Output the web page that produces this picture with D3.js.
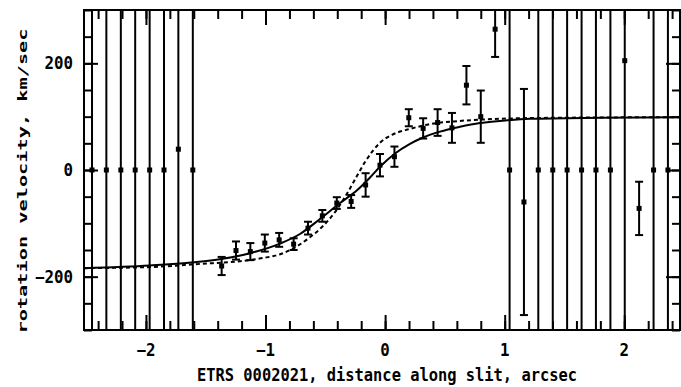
<!DOCTYPE html>
<html>
<head>
<meta charset="utf-8">
<script src="https://cdn.jsdelivr.net/npm/d3@7"></script>
<style>
html, body { margin: 0; padding: 0; background: #fff; }
svg { display: block; }
</style>
</head>
<body>
<svg id="chart" width="681" height="387"></svg>
<script>
// ---- data ----
const positions = [-2.451, -2.331, -2.210, -2.090, -1.969, -1.849, -1.729, -1.608,
  -1.367, -1.247, -1.127, -1.006, -0.886, -0.765, -0.645, -0.525, -0.404, -0.284,
  -0.163, -0.043, 0.078, 0.198, 0.318, 0.439, 0.559, 0.680, 0.800, 0.920,
  1.041, 1.161, 1.281, 1.402, 1.522, 1.643, 1.763, 1.884, 2.004, 2.124, 2.245, 2.365];
const velocities = [0, 0, 0, 0, 0, 0, 39, 0,
  -180, -151, -153, -137, -131, -139, -109, -86, -62, -59,
  -28, 9, 25, 98, 78, 89, 79, 159, 100, 264,
  0, -60, 0, 0, 0, 0, 0, 0, 205, -72, 0, 0];
const errors = [1000, 1000, 1000, 1000, 1000, 1000, 1000, 1000,
  17, 17, 16, 16, 13, 11, 12, 11, 11, 12,
  22, 21, 19, 16, 19, 25, 28, 36, 49, 52,
  1000, 212, 1000, 1000, 1000, 1000, 1000, 1000, 1000, 50, 1000, 1000];

// model rotation curve (solid)
const modelPos = [-2.518, -1.966, -1.598, -1.372, -1.113, -0.879, -0.712, -0.545, -0.377,
  -0.235, -0.126, -0.043, 0.083, 0.208, 0.317, 0.459, 0.626, 0.793, 0.961, 1.212, 1.797, 2.466];
const modelVel = [-184, -179, -173, -167, -155, -138, -120, -92, -62,
  -38, -14, 6, 31, 49, 61, 72, 81, 88, 92, 96, 98, 99];

// alternative model curve (dashed)
const altPos = [-2.518, -1.966, -1.548, -1.213, -1.020, -0.879, -0.737, -0.628, -0.528, -0.419,
  -0.310, -0.235, -0.168, -0.043, 0.058, 0.208, 0.375, 0.626, 0.961, 1.463, 2.466];
const altVel = [-184, -182, -176, -171, -165, -158, -143, -126, -107, -79,
  -41, -11, 15, 51, 66, 77, 86, 92, 96, 98, 99];

const xTickValues = [-2, -1, 0, 1, 2];
const yTickValues = [-200, 0, 200];
const xLabel = "ETRS 0002021, distance along slit, arcsec";
const yLabel = "rotation velocity, km/sec";

// ---- drawing ----
const svg = d3.select("#chart");
const L = 84, R = 680, T = 10, B = 330;
const FONT = "'DejaVu Sans Mono', monospace";

const x = d3.scaleLinear().domain([-2.518, 2.466]).range([L, R]);
const y = d3.scaleLinear().domain([-300, 300]).range([B, T]);

svg.append("rect").attr("width", 681).attr("height", 387).attr("fill", "#fff");

svg.append("defs").append("clipPath").attr("id", "plotclip")
  .append("rect").attr("x", L).attr("y", T).attr("width", R - L).attr("height", B - T);

const plot = svg.append("g").attr("clip-path", "url(#plotclip)");

const line = d3.line().x(d => x(d[0])).y(d => y(d[1])).curve(d3.curveMonotoneX);

plot.append("path")
  .datum(altPos.map((p, i) => [p, altVel[i]]))
  .attr("d", line).attr("fill", "none").attr("stroke", "#000")
  .attr("stroke-width", 2).attr("stroke-dasharray", "4,3");

plot.append("path")
  .datum(modelPos.map((p, i) => [p, modelVel[i]]))
  .attr("d", line).attr("fill", "none").attr("stroke", "#000")
  .attr("stroke-width", 2);

const pts = positions.map((p, i) => ({ p, v: velocities[i], e: errors[i] }));
const g = plot.selectAll("g.pt").data(pts).join("g").attr("class", "pt");
g.append("line")
  .attr("x1", d => x(d.p)).attr("x2", d => x(d.p))
  .attr("y1", d => y(d.v - d.e)).attr("y2", d => y(d.v + d.e))
  .attr("stroke", "#000").attr("stroke-width", 2);
g.append("line")
  .attr("x1", d => x(d.p) - 4).attr("x2", d => x(d.p) + 4)
  .attr("y1", d => y(d.v - d.e)).attr("y2", d => y(d.v - d.e))
  .attr("stroke", "#000").attr("stroke-width", 2);
g.append("line")
  .attr("x1", d => x(d.p) - 4).attr("x2", d => x(d.p) + 4)
  .attr("y1", d => y(d.v + d.e)).attr("y2", d => y(d.v + d.e))
  .attr("stroke", "#000").attr("stroke-width", 2);
g.append("rect")
  .attr("x", d => x(d.p) - 2.5).attr("y", d => y(d.v) - 2.5)
  .attr("width", 5).attr("height", 5).attr("fill", "#000");

// axes (inward ticks)
function styleAxis(sel) {
  sel.select(".domain").remove();
  sel.selectAll(".tick line").attr("stroke", "#000").attr("stroke-width", 2);
  sel.selectAll(".tick text").remove();
}
const xMinor = x.ticks(25);
const yMinor = y.ticks(12);

svg.append("g").attr("transform", `translate(0,${B})`)
  .call(d3.axisBottom(x).tickValues(xMinor).tickSize(-9)).call(styleAxis);
svg.append("g").attr("transform", `translate(0,${B})`)
  .call(d3.axisBottom(x).tickValues(xTickValues).tickSize(-15)).call(styleAxis);
svg.append("g").attr("transform", `translate(0,${T})`)
  .call(d3.axisTop(x).tickValues(xMinor).tickSize(-9)).call(styleAxis);
svg.append("g").attr("transform", `translate(0,${T})`)
  .call(d3.axisTop(x).tickValues(xTickValues).tickSize(-15)).call(styleAxis);

svg.append("g").attr("transform", `translate(${L},0)`)
  .call(d3.axisLeft(y).tickValues(yMinor).tickSize(-8)).call(styleAxis);
svg.append("g").attr("transform", `translate(${L},0)`)
  .call(d3.axisLeft(y).tickValues(yTickValues).tickSize(-14)).call(styleAxis);
svg.append("g").attr("transform", `translate(${R},0)`)
  .call(d3.axisRight(y).tickValues(yMinor).tickSize(-8)).call(styleAxis);
svg.append("g").attr("transform", `translate(${R},0)`)
  .call(d3.axisRight(y).tickValues(yTickValues).tickSize(-14)).call(styleAxis);

// frame
svg.append("rect").attr("x", L).attr("y", T).attr("width", R - L).attr("height", B - T)
  .attr("fill", "none").attr("stroke", "#000").attr("stroke-width", 2);

const fmt = v => (v < 0 ? "\u2212" : "") + Math.abs(v);

// tick labels
svg.selectAll("text.xt").data(xTickValues).join("text").attr("class", "xt")
  .attr("x", d => x(d)).attr("y", 356)
  .attr("text-anchor", "middle")
  .attr("font-family", FONT).attr("font-weight", "bold").attr("font-size", 17)
  .attr("textLength", d => fmt(d).length * 9.5).attr("lengthAdjust", "spacingAndGlyphs")
  .text(fmt);

svg.selectAll("text.yt").data(yTickValues).join("text").attr("class", "yt")
  .attr("x", 73).attr("y", d => y(d) + 6)
  .attr("text-anchor", "end")
  .attr("font-family", FONT).attr("font-weight", "bold").attr("font-size", 17)
  .attr("textLength", d => fmt(d).length * 9.5).attr("lengthAdjust", "spacingAndGlyphs")
  .text(fmt);

// axis titles
svg.append("text")
  .attr("x", 387).attr("y", 381).attr("text-anchor", "middle")
  .attr("font-family", FONT).attr("font-weight", "bold").attr("font-size", 18)
  .attr("textLength", 380).attr("lengthAdjust", "spacingAndGlyphs")
  .text(xLabel);

svg.append("text")
  .attr("transform", "translate(27,181) rotate(-90)")
  .attr("text-anchor", "middle")
  .attr("font-family", FONT).attr("font-weight", "bold").attr("font-size", 13)
  .attr("textLength", 305).attr("lengthAdjust", "spacingAndGlyphs")
  .text(yLabel);
</script>
</body>
</html>
